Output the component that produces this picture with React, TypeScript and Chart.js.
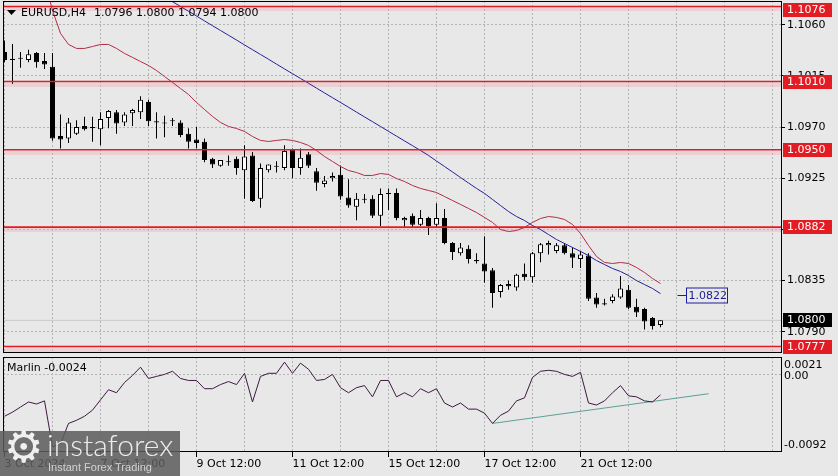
import React, { useEffect, useRef } from 'react';
import { Chart, registerables } from 'chart.js';
Chart.register(...registerables);

// ---------- data (EURUSD H4) ----------
const OPEN = [1.1036,1.1030,1.1031,1.1029,1.1035,1.1028,1.1023,1.0962,1.0960,1.0964,1.0971,1.0970,1.0968,1.0978,1.0983,1.0974,1.0982,1.0983,1.0992,1.0975,1.0974,1.0976,1.0974,1.0964,1.0959,1.0957,1.0942,1.0936,1.0940,1.0942,1.0932,1.0945,1.0907,1.0932,1.0935,1.0934,1.0950,1.0934,1.0946,1.0931,1.0920,1.0925,1.0928,1.0908,1.0900,1.0907,1.0907,1.0892,1.0912,1.0912,1.0888,1.0892,1.0884,1.0890,1.0884,1.0890,1.0868,1.0859,1.0863,1.0853,1.0850,1.0844,1.0825,1.0832,1.0829,1.0841,1.0838,1.0859,1.0866,1.0861,1.0866,1.0859,1.0854,1.0857,1.0820,1.0815,1.0817,1.0820,1.0827,1.0812,1.0810,1.0802,1.0796];
const HIGH = [1.1046,1.1043,1.1036,1.1038,1.1036,1.1035,1.1035,1.0981,1.0978,1.0976,1.0979,1.0979,1.0983,1.0985,1.0985,1.0983,1.0986,1.0997,1.0994,1.0983,1.0980,1.0978,1.0976,1.0969,1.0970,1.0960,1.0943,1.0941,1.0945,1.0944,1.0954,1.0948,1.0938,1.0937,1.0940,1.0954,1.0951,1.0951,1.0948,1.0934,1.0927,1.0930,1.0936,1.0924,1.0912,1.0911,1.0910,1.0916,1.0916,1.0916,1.0891,1.0894,1.0897,1.0891,1.0903,1.0898,1.0869,1.0868,1.0866,1.0859,1.0874,1.0846,1.0832,1.0835,1.0841,1.0850,1.0860,1.0868,1.0870,1.0868,1.0868,1.0864,1.0861,1.0859,1.0824,1.0819,1.0823,1.0839,1.0831,1.0819,1.0811,1.0803,1.0800];
const LOW = [1.1027,1.1008,1.1022,1.1027,1.1022,1.1021,1.0958,1.0951,1.0956,1.0963,1.0967,1.0957,1.0954,1.0969,1.0964,1.0971,1.0971,1.0977,1.0971,1.0960,1.0961,1.0971,1.0961,1.0951,1.0951,1.0939,1.0934,1.0935,1.0936,1.0928,1.0907,1.0904,1.0899,1.0930,1.0930,1.0932,1.0925,1.0928,1.0934,1.0914,1.0917,1.0922,1.0906,1.0899,1.0888,1.0903,1.0890,1.0883,1.0897,1.0888,1.0882,1.0882,1.0883,1.0875,1.0882,1.0867,1.0853,1.0857,1.0850,1.0850,1.0833,1.0811,1.0820,1.0827,1.0826,1.0835,1.0833,1.0851,1.0858,1.0859,1.0858,1.0846,1.0846,1.0817,1.0811,1.0813,1.0815,1.0819,1.0810,1.0803,1.0792,1.0792,1.0794];
const CLOSE = [1.1029,1.1029,1.1030,1.1034,1.1027,1.1025,1.0960,1.0959,1.0974,1.0970,1.0968,1.0969,1.0977,1.0984,1.0973,1.0981,1.0985,1.0994,1.0975,1.0974,1.0973,1.0975,1.0963,1.0957,1.0956,1.0941,1.0937,1.0941,1.0939,1.0934,1.0944,1.0905,1.0934,1.0937,1.0936,1.0949,1.0934,1.0943,1.0936,1.0921,1.0923,1.0927,1.0909,1.0901,1.0907,1.0906,1.0892,1.0911,1.0911,1.0890,1.0890,1.0884,1.0890,1.0883,1.0890,1.0868,1.0860,1.0864,1.0854,1.0852,1.0843,1.0824,1.0831,1.0830,1.0840,1.0838,1.0859,1.0867,1.0868,1.0866,1.0859,1.0855,1.0858,1.0819,1.0814,1.0814,1.0821,1.0828,1.0811,1.0807,1.0799,1.0795,1.0800];

const RED_MA = [null,null,null,null,null,1.1099,1.10725,1.10523,1.10426,1.10391,1.10391,1.10408,1.10426,1.10426,1.10391,1.10347,1.10312,1.10276,1.10241,1.10197,1.10144,1.10092,1.10039,1.09986,1.09916,1.09854,1.09793,1.09740,1.09705,1.09687,1.09661,1.09617,1.09582,1.09573,1.09582,1.09590,1.09582,1.09564,1.09538,1.09494,1.09441,1.09397,1.09353,1.09318,1.09300,1.09274,1.09274,1.09291,1.09283,1.09247,1.09221,1.09186,1.09160,1.09142,1.09124,1.09089,1.09054,1.09019,1.08984,1.08948,1.08905,1.08861,1.08799,1.08781,1.08790,1.08817,1.08861,1.08896,1.08913,1.08905,1.08887,1.08843,1.08764,1.08658,1.08562,1.08509,1.08500,1.08509,1.08500,1.08465,1.08421,1.08368,1.08324];
const BLUE_MA = [null,null,null,null,null,null,null,null,null,null,null,null,null,null,null,null,null,null,null,null,1.10844,1.10802,1.10760,1.10718,1.10676,1.10633,1.10591,1.10549,1.10507,1.10465,1.10422,1.10380,1.10338,1.10296,1.10253,1.10211,1.10169,1.10127,1.10085,1.10042,1.10000,1.09958,1.09916,1.09874,1.09831,1.09789,1.09747,1.09705,1.09662,1.09620,1.09578,1.09536,1.09494,1.09450,1.09401,1.09353,1.09305,1.09256,1.09208,1.09160,1.09116,1.09063,1.09010,1.08957,1.08913,1.08878,1.08834,1.08799,1.08755,1.08711,1.08676,1.08641,1.08606,1.08570,1.08526,1.08491,1.08456,1.08430,1.08394,1.08350,1.08315,1.08280,1.08235];

const MARLIN = [-0.00495,-0.00446,-0.00385,-0.00325,-0.00349,-0.00312,-0.00859,-0.00823,-0.00580,-0.00543,-0.00495,-0.00422,-0.00300,-0.00179,-0.00215,-0.00094,-0.00009,0.00089,-0.00045,-0.00021,0.00003,0.00040,-0.00045,-0.00069,-0.00069,-0.00167,-0.00167,-0.00118,-0.00082,-0.00118,0.00016,-0.00325,-0.00021,0.00016,0.00016,0.00149,0.00016,0.00137,0.00064,-0.00069,-0.00057,0.00003,-0.00155,-0.00215,-0.00155,-0.00130,-0.00264,-0.00069,-0.00069,-0.00264,-0.00215,-0.00264,-0.00167,-0.00215,-0.00167,-0.00337,-0.00385,-0.00337,-0.00410,-0.00410,-0.00458,-0.00580,-0.00483,-0.00434,-0.00312,-0.00276,-0.00033,0.00040,0.00052,0.00040,0.00003,-0.00021,0.00028,-0.00337,-0.00361,-0.00312,-0.00215,-0.00130,-0.00252,-0.00264,-0.00312,-0.00325,-0.00240];
const TREND_IDX = [61, 88];
const TREND_VAL = [-0.0058, -0.00227];

const LEVELS = [1.1076, 1.1010, 1.0950, 1.0882, 1.0777];
const LAST_PRICE = 1.0800;
const PRICE_TICKS = [1.1060, 1.1015, 1.0970, 1.0925, 1.0880, 1.0835, 1.0790];
const MARLIN_MAX = 0.0021;
const MARLIN_MIN = -0.0092;
const MARLIN_LABELS = ['0.0021', '0.00', '-0.0092'];
const GRID_IDX = [0, 6, 12, 18, 24, 30, 36, 42, 48, 54, 60, 66, 72, 78, 84, 90, 96];
const TIME_IDX = [0, 12, 24, 36, 48, 60, 72];
const TIME_LABELS = ['3 Oct 2024', '7 Oct 12:00', '9 Oct 12:00', '11 Oct 12:00', '15 Oct 12:00', '17 Oct 12:00', '21 Oct 12:00'];
const LABEL_PRICE = 1.0822;
const LABEL_IDX = 84;
const SYMBOL = 'EURUSD,H4';
const OHLC_TEXT = '1.0796 1.0800 1.0794 1.0800';
const INDICATOR_TEXT = 'Marlin -0.0024';

const X_MIN = -0.1875;
const X_MAX = 97.0625;
const Y_MIN = 1.07713;
const Y_MAX = 1.10808;

// ---------- style ----------
const FONT = "'DejaVu Sans', sans-serif";
const BG = '#e8e8e8';
const GRID = '#b4b4b4';
const RED = '#e31b23';

const frame = (ctx: CanvasRenderingContext2D, ca: any) => {
  const x0 = Math.round(ca.left) + 0.5, x1 = Math.round(ca.right) + 0.5;
  const y0 = Math.round(ca.top) + 0.5, y1 = Math.round(ca.bottom) - 0.5;
  ctx.strokeStyle = '#000';
  ctx.lineWidth = 1;
  ctx.setLineDash([]);
  ctx.strokeRect(x0, y0, x1 - x0, y1 - y0);
};

const mainPlugin = {
  id: 'mainDecor',
  beforeDatasetsDraw(chart: any) {
    const { ctx, chartArea: ca, scales } = chart;
    ctx.save();
    ctx.fillStyle = 'rgba(238,170,182,0.38)';
    for (const v of LEVELS) {
      const y = Math.round(scales.y.getPixelForValue(v));
      ctx.fillRect(ca.left, y + 1, ca.right - ca.left, 4);
    }
    ctx.restore();
  },
  afterDraw(chart: any) {
    const { ctx, chartArea: ca, scales } = chart;
    const ys = scales.y, xs = scales.x;
    ctx.save();
    frame(ctx, ca);
    ctx.font = `11px ${FONT}`;
    ctx.textBaseline = 'middle';
    ctx.textAlign = 'left';
    const bx = Math.round(ca.right) + 2, bw = 49, bh = 14;
    const box = (v: number, color: string) => {
      const y = Math.round(ys.getPixelForValue(v));
      const top = Math.max(y - 7, Math.round(ca.top) + 2);
      ctx.fillStyle = color;
      ctx.fillRect(bx, top, bw, bh);
      ctx.fillStyle = '#fff';
      ctx.fillText(v.toFixed(4), bx + 4, top + bh / 2 + 0.5);
    };
    LEVELS.forEach((v) => box(v, RED));
    box(LAST_PRICE, '#000');

    // price label
    const ly = Math.round(ys.getPixelForValue(LABEL_PRICE)) + 0.5;
    const lx = Math.round(xs.getPixelForValue(LABEL_IDX)) + 0.5;
    ctx.strokeStyle = '#1c1ca0';
    ctx.lineWidth = 1;
    ctx.beginPath();
    ctx.moveTo(lx, ly);
    ctx.lineTo(lx + 9, ly);
    ctx.stroke();
    const tw = ctx.measureText(LABEL_PRICE.toFixed(4)).width;
    ctx.strokeRect(lx + 9, ly - 7.5, Math.round(tw + 3), 15);
    ctx.fillStyle = '#1c1c90';
    ctx.fillText(LABEL_PRICE.toFixed(4), lx + 11, ly + 0.5);

    // header
    ctx.fillStyle = '#000';
    ctx.beginPath();
    ctx.moveTo(7, 10);
    ctx.lineTo(16, 10);
    ctx.lineTo(11.5, 15);
    ctx.closePath();
    ctx.fill();
    ctx.fillText(SYMBOL, 21, 13);
    ctx.fillText(OHLC_TEXT, 94, 13);
    ctx.restore();
  },
};

const subPlugin = {
  id: 'subDecor',
  afterDraw(chart: any) {
    const { ctx, chartArea: ca, scales } = chart;
    ctx.save();
    frame(ctx, ca);
    ctx.font = `11px ${FONT}`;
    ctx.textBaseline = 'middle';
    ctx.textAlign = 'left';
    ctx.fillStyle = '#000';
    const x = Math.round(ca.right) + 3;
    ctx.fillText(MARLIN_LABELS[0], x, Math.round(ca.top) + 8);
    ctx.fillText(MARLIN_LABELS[1], x, Math.round(scales.y.getPixelForValue(0)) + 1);
    ctx.fillText(MARLIN_LABELS[2], x, Math.round(ca.bottom) - 7);
    ctx.fillText(INDICATOR_TEXT, 7, Math.round(ca.top) + 11);
    ctx.restore();
  },
};

function mainConfig(): any {
  const idx = OPEN.map((_, i) => i);
  return {
    type: 'bar',
    data: {
      datasets: [
        ...LEVELS.map((v) => ({
          type: 'line',
          data: [{ x: X_MIN, y: v }, { x: X_MAX, y: v }],
          borderColor: RED,
          borderWidth: 1.6,
          pointRadius: 0,
          order: 0,
        })),
        {
          type: 'line',
          data: RED_MA.map((v, i) => ({ x: i, y: v })),
          borderColor: '#b42a44',
          borderWidth: 1,
          pointRadius: 0,
          clip: 0,
          order: 1,
        },
        {
          type: 'line',
          data: BLUE_MA.map((v, i) => ({ x: i, y: v })),
          borderColor: '#22229a',
          borderWidth: 1,
          pointRadius: 0,
          clip: 0,
          order: 1,
        },
        {
          type: 'bar',
          data: idx.map((i) => ({ x: i, y: [Math.min(OPEN[i], CLOSE[i]), Math.max(OPEN[i], CLOSE[i])] })),
          backgroundColor: idx.map((i) => (CLOSE[i] >= OPEN[i] ? '#ffffff' : '#000000')),
          borderColor: '#000',
          borderWidth: 1,
          borderSkipped: false,
          barThickness: 5,
          minBarLength: 1,
          inflateAmount: 0,
          grouped: false,
          order: 2,
        },
        {
          type: 'bar',
          data: idx.map((i) => ({ x: i, y: [LOW[i], HIGH[i]] })),
          backgroundColor: '#000',
          borderWidth: 0,
          barThickness: 1,
          inflateAmount: 0,
          grouped: false,
          order: 3,
        },
        {
          type: 'line',
          data: [{ x: X_MIN, y: LAST_PRICE }, { x: X_MAX, y: LAST_PRICE }],
          borderColor: '#c9c9c9',
          borderWidth: 1,
          pointRadius: 0,
          order: 4,
        },
      ],
    },
    options: {
      responsive: false,
      animation: false,
      events: [],
      layout: { padding: { left: 3, top: 1, right: 0, bottom: 123 }, autoPadding: false },
      plugins: { legend: { display: false }, tooltip: { enabled: false } },
      scales: {
        x: {
          type: 'linear',
          min: X_MIN,
          max: X_MAX,
          offset: false,
          grid: { color: GRID, drawTicks: false, offset: false },
          border: { display: false, dash: [2, 2] },
          ticks: { display: false },
          afterBuildTicks: (s: any) => { s.ticks = GRID_IDX.map((v) => ({ value: v })); },
          afterFit: (s: any) => { s.height = 0; s.paddingLeft = 0; s.paddingRight = 0; },
        },
        y: {
          type: 'linear',
          position: 'right',
          min: Y_MIN,
          max: Y_MAX,
          grid: { color: GRID, drawTicks: true, tickLength: 4, tickColor: '#000', tickBorderDash: [], tickWidth: 1 },
          border: { display: false, dash: [2, 2] },
          ticks: {
            color: '#000',
            font: { family: FONT, size: 11 },
            padding: 2,
            callback: (v: any) => Number(v).toFixed(4),
          },
          afterBuildTicks: (s: any) => { s.ticks = PRICE_TICKS.map((v) => ({ value: v })); },
          afterFit: (s: any) => { s.width = 57; s.paddingTop = 0; s.paddingBottom = 0; },
        },
      },
    },
    plugins: [mainPlugin],
  };
}

function subConfig(): any {
  return {
    type: 'line',
    data: {
      datasets: [
        {
          data: TREND_IDX.map((x, k) => ({ x, y: TREND_VAL[k] })),
          borderColor: '#5c9f97',
          borderWidth: 1,
          pointRadius: 0,
          order: 1,
        },
        {
          data: MARLIN.map((v, i) => ({ x: i, y: v })),
          borderColor: '#3e1840',
          borderWidth: 1,
          pointRadius: 0,
          clip: 0,
          order: 0,
        },
      ],
    },
    options: {
      responsive: false,
      animation: false,
      events: [],
      layout: { padding: { left: 3, top: 357, right: 0, bottom: 0 }, autoPadding: false },
      plugins: { legend: { display: false }, tooltip: { enabled: false } },
      scales: {
        x: {
          type: 'linear',
          min: X_MIN,
          max: X_MAX,
          offset: false,
          grid: {
            color: GRID,
            drawTicks: true,
            tickLength: 5,
            tickBorderDash: [],
            tickColor: (c: any) => (c.tick && TIME_IDX.includes(c.tick.value) ? '#000' : 'rgba(0,0,0,0)'),
            offset: false,
          },
          border: { display: false, dash: [2, 2] },
          ticks: {
            autoSkip: false,
            maxRotation: 0,
            minRotation: 0,
            align: 'start',
            padding: 1,
            color: '#000',
            font: { family: FONT, size: 11 },
            callback: (v: any) => {
              const k = TIME_IDX.indexOf(Number(v));
              return k >= 0 ? TIME_LABELS[k] : '';
            },
          },
          afterBuildTicks: (s: any) => { s.ticks = GRID_IDX.map((v) => ({ value: v })); },
          afterFit: (s: any) => { s.height = 24; s.paddingLeft = 0; s.paddingRight = 0; },
        },
        y: {
          type: 'linear',
          position: 'right',
          min: MARLIN_MIN,
          max: MARLIN_MAX,
          grid: { color: GRID, drawTicks: false },
          border: { display: false, dash: [2, 2] },
          ticks: { display: false },
          afterBuildTicks: (s: any) => { s.ticks = [{ value: 0 }]; },
          afterFit: (s: any) => { s.width = 57; s.paddingTop = 0; s.paddingBottom = 0; },
        },
      },
    },
    plugins: [subPlugin],
  };
}

export default function App() {
  const aRef = useRef<HTMLCanvasElement>(null);
  const bRef = useRef<HTMLCanvasElement>(null);
  useEffect(() => {
    const b = new Chart(bRef.current as HTMLCanvasElement, subConfig());
    const a = new Chart(aRef.current as HTMLCanvasElement, mainConfig());
    return () => {
      a.destroy();
      b.destroy();
    };
  }, []);
  return (
    <div style={{ position: 'fixed', left: 0, top: 0, width: 838, height: 476, background: BG, overflow: 'hidden' }}>
      <canvas ref={bRef} width={838} height={476} style={{ position: 'absolute', left: 0, top: 0 }} />
      <canvas ref={aRef} width={838} height={476} style={{ position: 'absolute', left: 0, top: 0 }} />
      <div style={{ position: 'absolute', left: 0, top: 431, width: 180, height: 45, background: 'rgba(92,92,92,0.86)' }}>
        <span style={{ position: 'absolute', left: 4, top: -8, fontSize: 44, lineHeight: '48px', color: '#f0f0f0', fontFamily: FONT }}>⚙</span>
        <span style={{ position: 'absolute', left: 47, top: -2, fontSize: 30, lineHeight: '30px', color: '#ececec', fontFamily: "Lato, 'Open Sans', sans-serif", fontWeight: 300 }}>instaforex</span>
        <span style={{ position: 'absolute', left: 48, top: 30, fontSize: 11, lineHeight: '13px', color: '#d2d2d2', fontFamily: "'Liberation Sans', Arial, sans-serif" }}>Instant Forex Trading</span>
      </div>
    </div>
  );
}
